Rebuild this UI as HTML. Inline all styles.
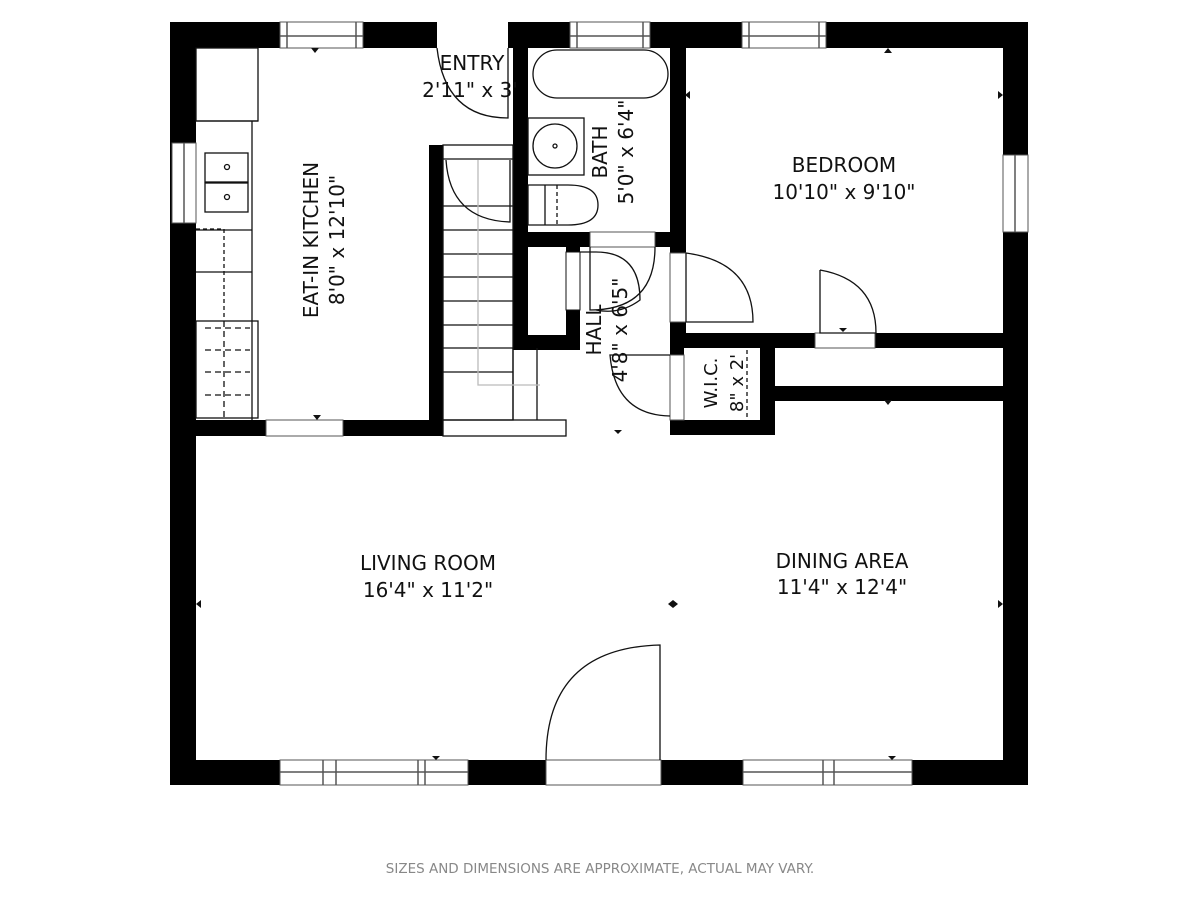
<!DOCTYPE html>
<html><head><meta charset="utf-8"><style>
html,body{margin:0;padding:0;background:#fff;width:1200px;height:900px;overflow:hidden}
svg{display:block}
text{font-family:"DejaVu Sans","Liberation Sans",sans-serif;fill:#111}
</style></head><body>
<svg width="1200" height="900" viewBox="0 0 1200 900" xmlns="http://www.w3.org/2000/svg">
<rect width="1200" height="900" fill="#fff"/>
<g fill="#000">
<rect x="170" y="22" width="858" height="26"/>
<rect x="170" y="22" width="26" height="763"/>
<rect x="1003" y="22" width="25" height="763"/>
<rect x="170" y="760" width="858" height="25"/>
<rect x="196" y="420" width="70" height="16"/>
<rect x="343" y="420" width="100" height="16"/>
<rect x="429" y="145" width="14" height="291"/>
<rect x="513" y="22" width="15" height="328"/>
<rect x="513" y="232" width="173" height="15"/>
<rect x="513" y="247" width="67" height="103"/>
<rect x="670" y="22" width="16" height="231"/>
<rect x="670" y="322" width="16" height="113"/>
<rect x="684" y="333" width="319" height="15"/>
<rect x="760" y="348" width="15" height="87"/>
<rect x="670" y="420" width="105" height="15"/>
<rect x="760" y="386" width="243" height="15"/>
</g>
<g fill="#fff">
<rect x="528" y="247" width="38" height="88"/>
<rect x="684" y="348" width="76" height="72"/>
</g>
<g fill="#fff" stroke="#555" stroke-width="1">
<rect x="566" y="252" width="14" height="58" stroke="#111"/>
<rect x="280" y="22" width="83" height="26"/>
<rect x="437" y="22" width="71" height="26" stroke="none"/>
<rect x="570" y="22" width="80" height="26"/>
<rect x="742" y="22" width="84" height="26"/>
<rect x="172" y="143" width="24" height="80"/>
<rect x="1003" y="155" width="25" height="77"/>
<rect x="266" y="420" width="77" height="16"/>
<rect x="590" y="232" width="65" height="15"/>
<rect x="670" y="253" width="16" height="69"/>
<rect x="815" y="333" width="60" height="15"/>
<rect x="670" y="355" width="14" height="65"/>
<rect x="280" y="760" width="188" height="25"/>
<rect x="546" y="760" width="115" height="25"/>
<rect x="743" y="760" width="169" height="25"/>
</g>
<g stroke="#555" stroke-width="1.5" fill="none">
<line x1="280" y1="36" x2="363" y2="36"/><line x1="287" y1="22" x2="287" y2="48"/><line x1="356" y1="22" x2="356" y2="48"/>
<line x1="570" y1="36" x2="650" y2="36"/><line x1="577" y1="22" x2="577" y2="48"/><line x1="643" y1="22" x2="643" y2="48"/>
<line x1="742" y1="36" x2="826" y2="36"/><line x1="749" y1="22" x2="749" y2="48"/><line x1="819" y1="22" x2="819" y2="48"/>
<line x1="184" y1="143" x2="184" y2="223"/><line x1="1015" y1="155" x2="1015" y2="232"/>
<line x1="280" y1="772" x2="468" y2="772"/><line x1="323" y1="760" x2="323" y2="785"/><line x1="336" y1="760" x2="336" y2="785"/><line x1="418" y1="760" x2="418" y2="785"/><line x1="425" y1="760" x2="425" y2="785"/>
<line x1="743" y1="772" x2="912" y2="772"/><line x1="823" y1="760" x2="823" y2="785"/><line x1="834" y1="760" x2="834" y2="785"/>
</g>
<g stroke="#111" stroke-width="1.3" fill="none">
<rect x="196" y="48" width="62" height="73"/>
<line x1="196" y1="121" x2="258" y2="121"/><line x1="252" y1="121" x2="252" y2="420"/>
<rect x="205" y="153" width="43" height="29"/><rect x="205" y="183" width="43" height="29"/>
<circle cx="227" cy="167" r="2.5"/><circle cx="227" cy="197" r="2.5"/>
<line x1="196" y1="230" x2="252" y2="230"/><line x1="196" y1="272" x2="252" y2="272"/>
<path d="M196 229 H224 V320" stroke-dasharray="4,3"/>
<rect x="196" y="321" width="62" height="97"/>
<path d="M205 328 H250 M205 350 H250 M205 372 H250 M205 395 H250 M224 321 V418" stroke-dasharray="6,4"/>
<rect x="443" y="145" width="70" height="275"/>
<path d="M443 159 H513 M443 206 H513 M443 230 H513 M443 254 H513 M443 277 H513 M443 301 H513 M443 325 H513 M443 348 H513 M443 372 H513"/>
<line x1="513" y1="348" x2="513" y2="420"/><line x1="537" y1="348" x2="537" y2="420"/>
<rect x="443" y="420" width="123" height="16"/>
<path d="M478 160 V385 H540" stroke="#bbb"/>
<path d="M446 160 Q450 220 510 222 V160" />
<path d="M437 48 Q445 118 508 118 V48"/>
<rect x="533" y="50" width="135" height="48" rx="24"/>
<rect x="528" y="118" width="56" height="57"/>
<circle cx="555" cy="146" r="22"/><circle cx="555" cy="146" r="2"/>
<path d="M528 185 H568 Q598 185 598 205 Q598 225 568 225 H528 Z"/>
<line x1="545" y1="185" x2="545" y2="225"/>
<line x1="557" y1="185" x2="557" y2="225" stroke-dasharray="4,3"/>
<path d="M590 247 V310 Q655 310 655 247"/>
<path d="M580 252 H596 Q640 252 640 300 Q620 315 596 310"/>
<path d="M686 253 V322 H753 Q753 262 686 253"/>
<path d="M820 270 V333 H876 Q876 280 820 270"/>
<path d="M670 355 H610 Q615 415 670 416"/>
<line x1="747" y1="350" x2="747" y2="420" stroke-dasharray="4,3"/>
<path d="M546 760 Q546 648 660 645 V760"/>
</g>
<g fill="#111">
<path d="M311 48 l4 5 l4 -5z"/><path d="M313 415 l4 5 l4 -5z"/>
<path d="M888 48 l-4 5 h8z"/><path d="M685 95 l5 -4 v8z"/><path d="M1003 95 l-5 -4 v8z"/>
<path d="M888 405 l-4 -5 h8z"/>
<path d="M432 756 l4 4 l4 -4z"/><path d="M888 756 l4 4 l4 -4z"/>
<path d="M196 604 l5 -4 v8z"/><path d="M1003 604 l-5 -4 v8z"/>
<path d="M668 604 l5 -4 v8z"/><path d="M678 604 l-5 -4 v8z"/>
<path d="M839 328 l4 4 l4 -4z"/><path d="M614 430 l4 4 l4 -4z"/>
</g>
<g font-size="20">
<text x="472" y="70" text-anchor="middle">ENTRY</text>
<text x="470" y="97" text-anchor="middle">2'11" x 3'</text>
<text x="844" y="172" text-anchor="middle">BEDROOM</text>
<text x="844" y="199" text-anchor="middle">10'10" x 9'10"</text>
<text x="428" y="570" text-anchor="middle">LIVING ROOM</text>
<text x="428" y="597" text-anchor="middle">16'4" x 11'2"</text>
<text x="842" y="568" text-anchor="middle">DINING AREA</text>
<text x="842" y="594" text-anchor="middle">11'4" x 12'4"</text>
<text transform="translate(318,240) rotate(-90)" text-anchor="middle">EAT-IN KITCHEN</text>
<text transform="translate(344,240) rotate(-90)" text-anchor="middle">8'0" x 12'10"</text>
<text transform="translate(607,152) rotate(-90)" text-anchor="middle">BATH</text>
<text transform="translate(633,152) rotate(-90)" text-anchor="middle">5'0" x 6'4"</text>
<text transform="translate(601,330) rotate(-90)" text-anchor="middle">HALL</text>
<text transform="translate(627,330) rotate(-90)" text-anchor="middle">4'8" x 6'5"</text>
<text transform="translate(717,383) rotate(-90)" text-anchor="middle" font-size="18">W.I.C.</text>
<text transform="translate(743,383) rotate(-90)" text-anchor="middle" font-size="18">8" x 2'</text>
</g>
<text x="600" y="873" text-anchor="middle" font-size="13.5" style="fill:#888">SIZES AND DIMENSIONS ARE APPROXIMATE, ACTUAL MAY VARY.</text>
</svg>
</body></html>
